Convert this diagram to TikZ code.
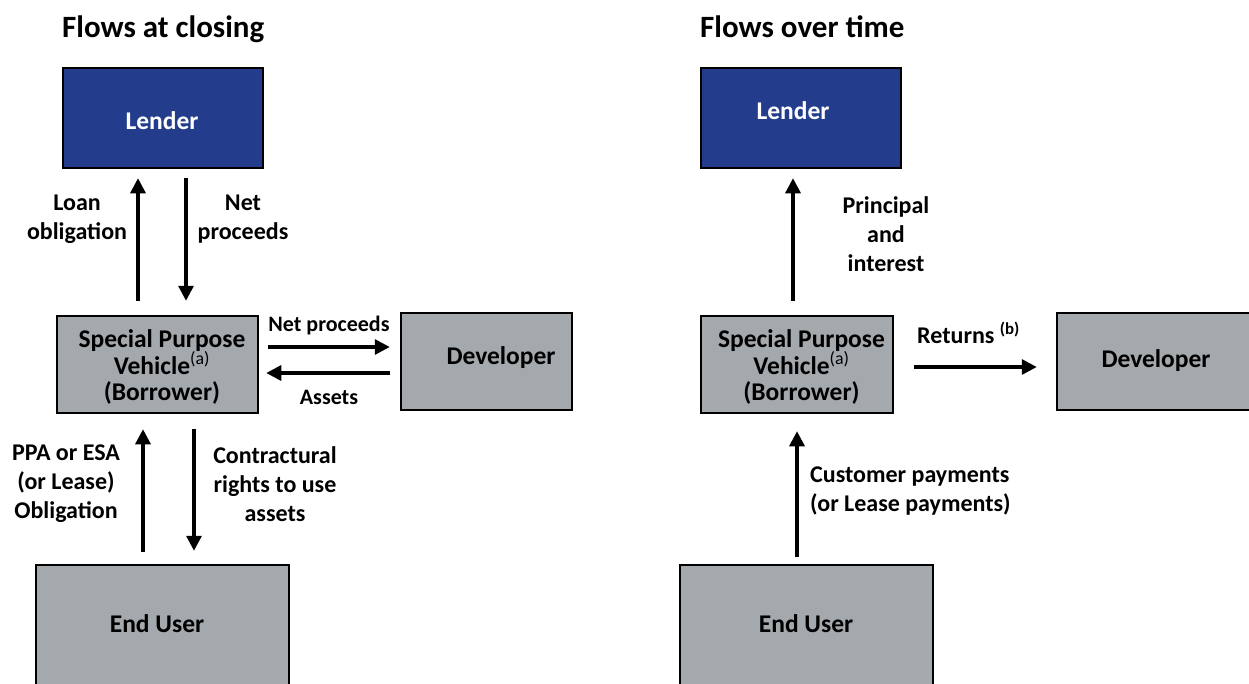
\documentclass[tikz,border=0pt]{standalone}
\usepackage{fontspec}
\setmainfont{Carlito}
\usetikzlibrary{arrows.meta}
\definecolor{lendblue}{RGB}{35,61,140}
\definecolor{boxgray}{RGB}{163,169,172}
\tikzset{
  bx/.style={draw=black, line width=2.5pt, fill=boxgray, inner sep=0pt, align=center},
  lend/.style={bx, fill=lendblue, text=white},
  bxt/.style={inner sep=0pt, align=center},
  arr/.style={line width=3.2pt, -{Triangle[length=15pt,width=15pt]}},
  lbl/.style={inner sep=0pt, align=center, font=\bfseries\fontsize{24}{29}\selectfont},
  slbl/.style={inner sep=0pt, font=\bfseries\fontsize{22}{29}\selectfont},
  ttl/.style={inner sep=0pt, anchor=base west, font=\bfseries\fontsize{31}{34}\selectfont}
}
\begin{document}
\begin{tikzpicture}[x=1pt,y=-1pt, font=\bfseries\fontsize{25.5}{26.5}\selectfont]
\useasboundingbox (0,0) rectangle (1249,683);
\clip (0,0) rectangle (1249,683);
% titles
\node[ttl] (t1) at (62,37) {Flows at closing};
\node[ttl] (t2) at (700,37) {Flows over time};
% left boxes
\node[lend, minimum width=200pt, minimum height=100pt] (lender1) at (163,118) {};
\node[bxt, text=white] (lender1t) at (162,121) {Lender};
\node[bx, minimum width=201pt, minimum height=97pt] (spv1) at (157.5,364.5) {};
\node[bxt] (spv1t) at (162,367) {Special Purpose\\Vehicle\textsuperscript{\mdseries(a)}\\(Borrower)};
\node[bx, minimum width=171pt, minimum height=97pt] (dev1) at (486.5,361.5) {};
\node[bxt] (dev1t) at (501,358) {Developer};
\node[bx, minimum width=253pt, minimum height=130pt] (end1) at (162.5,630) {};
\node[bxt] (end1t) at (157,624) {End User};
% right boxes
\node[lend, minimum width=200pt, minimum height=100pt] (lender2) at (801,118) {};
\node[bxt, text=white] (lender2t) at (793,111) {Lender};
\node[bx, minimum width=192pt, minimum height=97pt] (spv2) at (797,364.5) {};
\node[bxt] (spv2t) at (801.5,367) {Special Purpose\\Vehicle\textsuperscript{\mdseries(a)}\\(Borrower)};
\node[bx, minimum width=205pt, minimum height=97pt] (dev2) at (1159.5,361.5) {};
\node[bxt] (dev2t) at (1156,361) {Developer};
\node[bx, minimum width=253pt, minimum height=130pt] (end2) at (806.5,630) {};
\node[bxt] (end2t) at (806,624) {End User};
% left arrows
\draw[arr, shorten <=14pt, shorten >=9pt] ([xshift=-19.5pt]spv1.north) -- ([xshift=-19.5pt]spv1.north |- lender1.south);
\draw[arr, shorten <=9pt, shorten >=14pt] ([xshift=23pt]lender1.south) -- ([xshift=23pt]lender1.south |- spv1.north);
\draw[arr, shorten <=9pt, shorten >=10pt] (spv1.east |- 0,347) -- (dev1.west |- 0,347);
\draw[arr, shorten <=10pt, shorten >=7pt] (dev1.west |- 0,373) -- (spv1.east |- 0,373);
\draw[arr, shorten <=12pt, shorten >=15pt] ([xshift=-19.5pt]end1.north) -- ([xshift=-19.5pt]end1.north |- spv1.south);
\draw[arr, shorten <=15pt, shorten >=13pt] ([xshift=36.5pt]spv1.south) -- ([xshift=36.5pt]spv1.south |- end1.north);
% right arrows
\draw[arr, shorten <=14pt, shorten >=9pt] ([xshift=-4pt]spv2.north) -- ([xshift=-4pt]spv2.north |- lender2.south);
\draw[arr, shorten <=20pt, shorten >=19pt] (spv2.east |- 0,367) -- (dev2.west |- 0,367);
\draw[arr, shorten <=7pt, shorten >=17pt] ([xshift=-9.5pt]end2.north) -- ([xshift=-9.5pt]end2.north |- spv2.south);
% labels left
\node[lbl] (l1) at (77,219.5) {Loan\\obligation};
\node[lbl] (l2) at (243,219.5) {Net\\proceeds};
\node[slbl] (l3) at (329,326) {Net proceeds};
\node[slbl] (l4) at (329,397) {Assets};
\node[lbl] (l5) at (66,484) {PPA or ESA\\(or Lease)\\Obligation};
\node[lbl] (l6) at (275,484) {Contractural\\rights to use\\assets};
% labels right
\node[lbl] (r1) at (886,234) {Principal\\and\\interest};
\node[lbl, anchor=west] (r2) at (917,333) {Returns \textsuperscript{(b)}};
\node[lbl, anchor=west, align=left] (r3) at (810,491.5) {Customer payments\\(or Lease payments)};
\end{tikzpicture}
\end{document}
